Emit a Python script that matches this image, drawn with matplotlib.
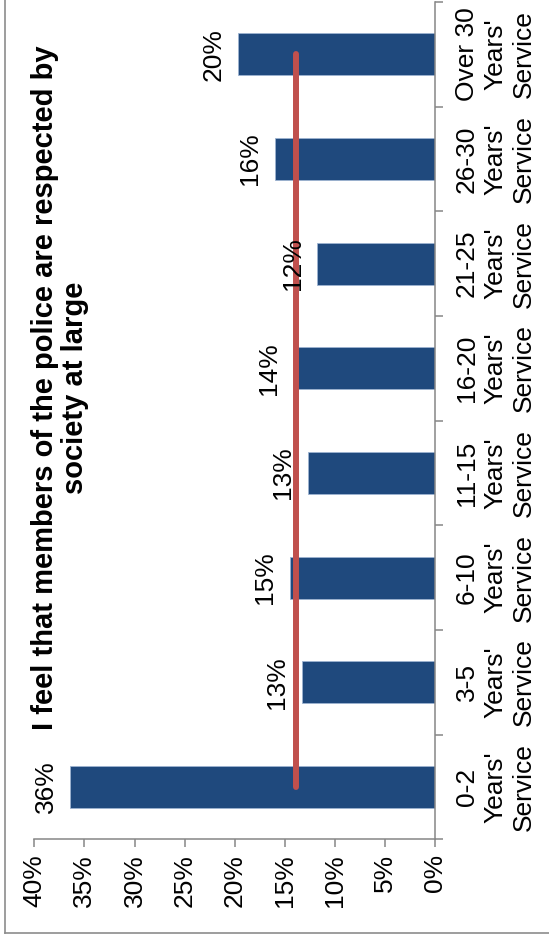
#!/usr/bin/env python3
"""
Police survey chart: share agreeing that police are respected by society,
by length of service. Drawn sideways (rotated) like the source image.
"""

import matplotlib
matplotlib.use('Agg')
import matplotlib.pyplot as plt
from matplotlib.lines import Line2D

categories = ["0-2\nYears'\nService", "3-5\nYears'\nService", "6-10\nYears'\nService",
              "11-15\nYears'\nService", "16-20\nYears'\nService", "21-25\nYears'\nService",
              "26-30\nYears'\nService", "Over 30\nYears'\nService"]
values = [36.4, 13.3, 14.5, 12.7, 14.1, 11.8, 16.0, 19.7]
value_labels = ['36%', '13%', '15%', '13%', '14%', '12%', '16%', '20%']
average = 13.9
value_ticks = [0, 5, 10, 15, 20, 25, 30, 35, 40]
tick_labels = [f'{v}%' for v in value_ticks]
title = 'I feel that members of the police are respected by\nsociety at large'

plt.rcParams['font.family'] = ['Liberation Sans', 'DejaVu Sans']

W, H = 549, 939
fig = plt.figure(figsize=(W / 100, H / 100), dpi=100)
ax = fig.add_axes([34.3 / W, (H - 839.3) / H, (435.3 - 34.3) / W, (839.3 - 2) / H])

pos = list(range(len(categories)))
ax.barh(pos, values, height=0.4, color='#1F497D', edgecolor='#9DB3D1',
        linewidth=0.6, zorder=2)
ax.plot([average] * len(pos), pos, color='#C0504D', linewidth=4.3,
        solid_capstyle='round', zorder=3)

for p, v, lab in zip(pos, values, value_labels):
    ax.annotate(lab, xy=(v, p), xytext=(-9, 0), textcoords='offset points',
                rotation=90, ha='right', va='center', fontsize=19, zorder=4)

ax.set_xlim(40, 0)
ax.set_ylim(-0.5, len(categories) - 0.5)

# value axis (bottom)
ax.set_xticks(value_ticks)
ax.set_xticklabels(tick_labels, rotation=90, ha='center', va='top', fontsize=19)
ax.tick_params(axis='x', direction='out', length=5.5, width=1.1, color='#868686', pad=5)

# category axis (right)
ax.yaxis.tick_right()
ax.set_yticks([i - 0.5 for i in range(len(categories) + 1)])
ax.set_yticklabels([])
ax.set_yticks(pos, minor=True)
ax.set_yticklabels(categories, minor=True, rotation=90, ha='left', va='center',
                   multialignment='center', fontsize=19, linespacing=1.23)
ax.tick_params(axis='y', which='major', direction='out', length=5.5, width=1.1,
               color='#868686', right=True, left=False)
ax.tick_params(axis='y', which='minor', length=0, pad=14, right=True, left=False)

for side in ['top', 'left']:
    ax.spines[side].set_visible(False)
for side in ['right', 'bottom']:
    ax.spines[side].set_color('#868686')
    ax.spines[side].set_linewidth(1.1)

fig.text(60 / W, (H - 388) / H, title, rotation=90, ha='center', va='center',
         multialignment='center', fontsize=21, fontweight='bold', linespacing=1.05)

# chart border (cropped at top and right in the source)
fig.add_artist(Line2D([4.7 / W, 4.7 / W], [(H - 932.5) / H, 1.0],
                      transform=fig.transFigure, color='#8C8C8C', linewidth=1.2))
fig.add_artist(Line2D([4.7 / W, 1.0], [(H - 932.5) / H, (H - 932.5) / H],
                      transform=fig.transFigure, color='#8C8C8C', linewidth=1.2))

plt.savefig('out.png', dpi=100)
